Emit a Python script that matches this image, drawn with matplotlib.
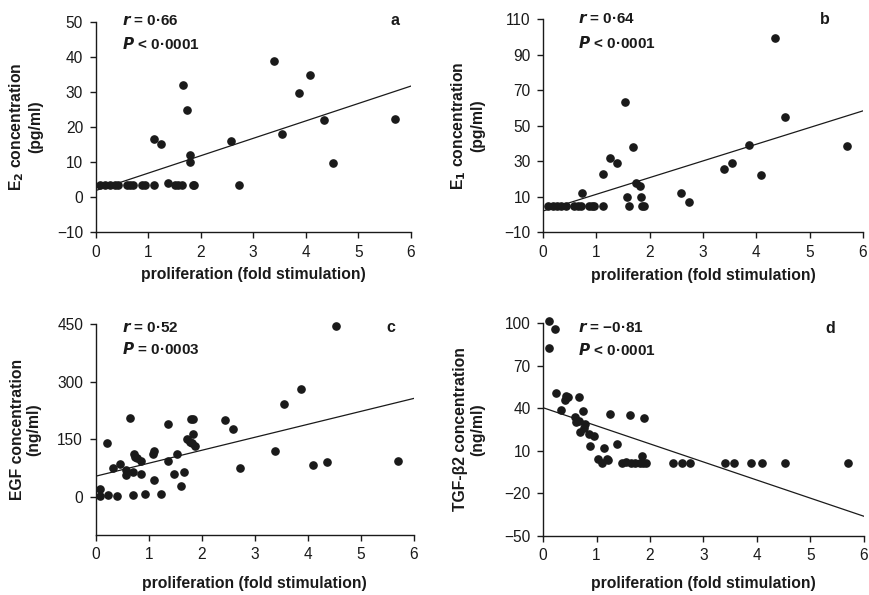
import matplotlib
matplotlib.use("Agg")
import matplotlib.pyplot as plt

plt.rcParams['font.family'] = ['Liberation Sans', 'DejaVu Sans']

# ---- Panel a: E2 ----
a_x = [0.08, 0.18, 0.27, 0.37, 0.43, 0.59, 0.65, 0.72, 0.88, 0.94, 1.11, 1.38, 1.51, 1.57, 1.64,
       1.85, 1.88, 2.73, 1.12, 1.25, 1.66, 1.74, 1.80, 1.80, 2.58, 3.40, 3.55, 3.87, 4.09, 4.35,
       4.52, 5.71]
a_y = [3.5, 3.5, 3.5, 3.5, 3.5, 3.5, 3.5, 3.5, 3.5, 3.5, 3.5, 4.1, 3.5, 3.5, 3.5,
       3.5, 3.5, 3.5, 16.5, 15.3, 32.0, 25.0, 12.1, 10.0, 16.0, 39.0, 18.0, 29.8, 35.0, 22.0,
       9.8, 22.2]
a_fit_x = [0, 6]
a_fit_y = [1.9, 31.7]

# ---- Panel b: E1 ----
b_x = [0.09, 0.19, 0.27, 0.34, 0.44, 0.59, 0.66, 0.72, 0.86, 0.91, 0.96, 1.12, 1.61, 1.86, 1.89,
       0.74, 1.13, 1.25, 1.38, 1.54, 1.58, 1.68, 1.74, 1.81, 1.83, 2.59, 2.74, 3.39, 3.55, 3.87,
       4.09, 4.36, 4.53, 5.70]
b_y = [5, 5, 5, 5, 5, 5, 5, 5, 5, 5, 5, 5, 5, 5, 5,
       12.3, 22.8, 32.1, 29.1, 63.2, 10.1, 38.0, 18.0, 16.1, 10.1, 12.0, 6.9, 25.9, 29.1, 38.9,
       22.0, 99.3, 54.8, 38.8]
b_fit_x = [0, 6]
b_fit_y = [2.0, 58.4]

# ---- Panel c: EGF ----
c_x = [0.08, 0.08, 0.21, 0.24, 0.32, 0.41, 0.46, 0.58, 0.58, 0.65, 0.71, 0.71, 0.72, 0.75, 0.78,
       0.86, 0.86, 0.93, 1.09, 1.11, 1.10, 1.24, 1.37, 1.37, 1.48, 1.53, 1.61, 1.66, 1.73, 1.78,
       1.80, 1.84, 1.84, 1.81, 1.87, 2.43, 2.59, 2.73, 3.39, 3.55, 3.87, 4.09, 4.36, 4.53, 5.70]
c_y = [19, 2, 139, 4, 75, 2, 85, 70, 57, 205, 64, 4, 110, 103, 100,
       94, 58, 7, 110, 119, 44, 6, 188, 93, 60, 112, 27, 64, 150, 141,
       203, 203, 163, 140, 131, 199, 175, 75, 118, 241, 281, 82, 91, 446, 93]
c_fit_x = [0, 6]
c_fit_y = [53, 256]

# ---- Panel d: TGF-beta2 ----
d_x = [0.11, 0.22, 0.11, 0.25, 0.33, 0.42, 0.41, 0.47, 0.67, 0.59, 0.62, 0.67, 0.74, 0.70, 0.77,
       0.79, 0.86, 0.95, 0.87, 1.14, 1.03, 1.10, 1.19, 1.22, 1.25, 1.39, 1.48, 1.56, 1.62, 1.65,
       1.72, 1.81, 1.85, 1.87, 1.88, 1.93, 2.43, 2.59, 2.74, 3.40, 3.57, 3.88, 4.10, 4.53, 5.71]
d_y = [101.4, 95.8, 82.8, 51.0, 38.8, 48.9, 45.6, 47.8, 48.0, 33.8, 30.5, 31.2, 38.1, 23.5, 26.3,
       28.9, 21.6, 20.4, 13.6, 11.7, 4.2, 1.3, 4.2, 3.7, 36.0, 15.0, 1.1, 2.3, 35.2, 1.1,
       1.1, 1.1, 6.3, 1.1, 33.1, 1.1, 1.1, 1.1, 1.1, 1.1, 1.1, 1.1, 1.1, 1.1, 1.1]
d_fit_x = [0, 6]
d_fit_y = [40.4, -36.3]

x_ticks = [0, 1, 2, 3, 4, 5, 6]
xlabel = 'proliferation (fold stimulation)'

panels = [
    dict(x=a_x, y=a_y, fx=a_fit_x, fy=a_fit_y, ylim=(-10, 50), yticks=[-10, 0, 10, 20, 30, 40, 50],
         ylabel='E$_\\mathbf{2}$ concentration\n(pg/ml)', r='0·66', p='< 0·0001', letter='a',
         rect=[0.110, 0.6096, 0.3626, 0.3534], tpos=(0.085, 1.005, 0.895), lpos=(0.95, 1.005),
         ylc=-0.167, xlc=-0.166),
    dict(x=b_x, y=b_y, fx=b_fit_x, fy=b_fit_y, ylim=(-10, 110), yticks=[-10, 10, 30, 50, 70, 90, 110],
         ylabel='E$_\\mathbf{1}$ concentration\n(pg/ml)', r='0·64', p='< 0·0001', letter='b',
         rect=[0.6249, 0.6096, 0.3681, 0.3580], tpos=(0.108, 1.0, 0.89), lpos=(0.88, 1.0),
         ylc=-0.181, xlc=-0.169),
    dict(x=c_x, y=c_y, fx=c_fit_x, fy=c_fit_y, ylim=(-100, 450), yticks=[0, 150, 300, 450],
         ylabel='EGF concentration\n(ng/ml)', r='0·52', p='= 0·0003', letter='c',
         rect=[0.110, 0.101, 0.3664, 0.3545], tpos=(0.082, 0.982, 0.88), lpos=(0.927, 0.982),
         ylc=-0.170, xlc=-0.195),
    dict(x=d_x, y=d_y, fx=d_fit_x, fy=d_fit_y, ylim=(-50, 100), yticks=[-50, -20, 10, 40, 70, 100],
         ylabel='TGF-β2 concentration\n(ng/ml)', r='\u22120·81', p='< 0·0001', letter='d',
         rect=[0.6249, 0.0997, 0.3693, 0.3569], tpos=(0.108, 0.976, 0.874), lpos=(0.894, 0.976),
         ylc=-0.181, xlc=-0.19),
]

col = '#1a1a1a'
fig = plt.figure(figsize=(8.69, 5.95), dpi=100)
for p in panels:
    ax = fig.add_axes(p['rect'])
    ax.plot(p['x'], p['y'], 'o', color=col, markersize=5.2, clip_on=False, zorder=3)
    ax.plot(p['fx'], p['fy'], '-', color=col, linewidth=0.9)
    ax.set_xlim(0, 6)
    ax.set_ylim(*p['ylim'])
    ax.set_xticks(x_ticks)
    ax.set_yticks(p['yticks'])
    for s in ['top', 'right']:
        ax.spines[s].set_visible(False)
    for s in ['left', 'bottom']:
        ax.spines[s].set_linewidth(1.0)
        ax.spines[s].set_color(col)
    ax.tick_params(direction='out', length=4.5, width=1.0, labelsize=11.2, colors=col, pad=4.5)
    ax.set_xlabel(xlabel, fontsize=11.3, fontweight='bold', color=col)
    ax.xaxis.set_label_coords(0.5, p['xlc'])
    ax.set_ylabel(p['ylabel'], fontsize=11.3, fontweight='bold', color=col, linespacing=1.15)
    ax.yaxis.set_label_coords(p['ylc'], 0.5)
    tx, ty1, ty2 = p['tpos']
    ax.text(tx, ty1, '$\\boldsymbol{r}$ = ' + p['r'], transform=ax.transAxes, fontsize=11,
            fontweight='bold', va='center', ha='left', color=col)
    ax.text(tx, ty2, '$\\boldsymbol{P}$ ' + p['p'], transform=ax.transAxes, fontsize=11,
            fontweight='bold', va='center', ha='left', color=col)
    ax.text(p['lpos'][0], p['lpos'][1], p['letter'], transform=ax.transAxes, fontsize=11.5,
            fontweight='bold', va='center', ha='center', color=col)

fig.savefig('out.png', dpi=100)
